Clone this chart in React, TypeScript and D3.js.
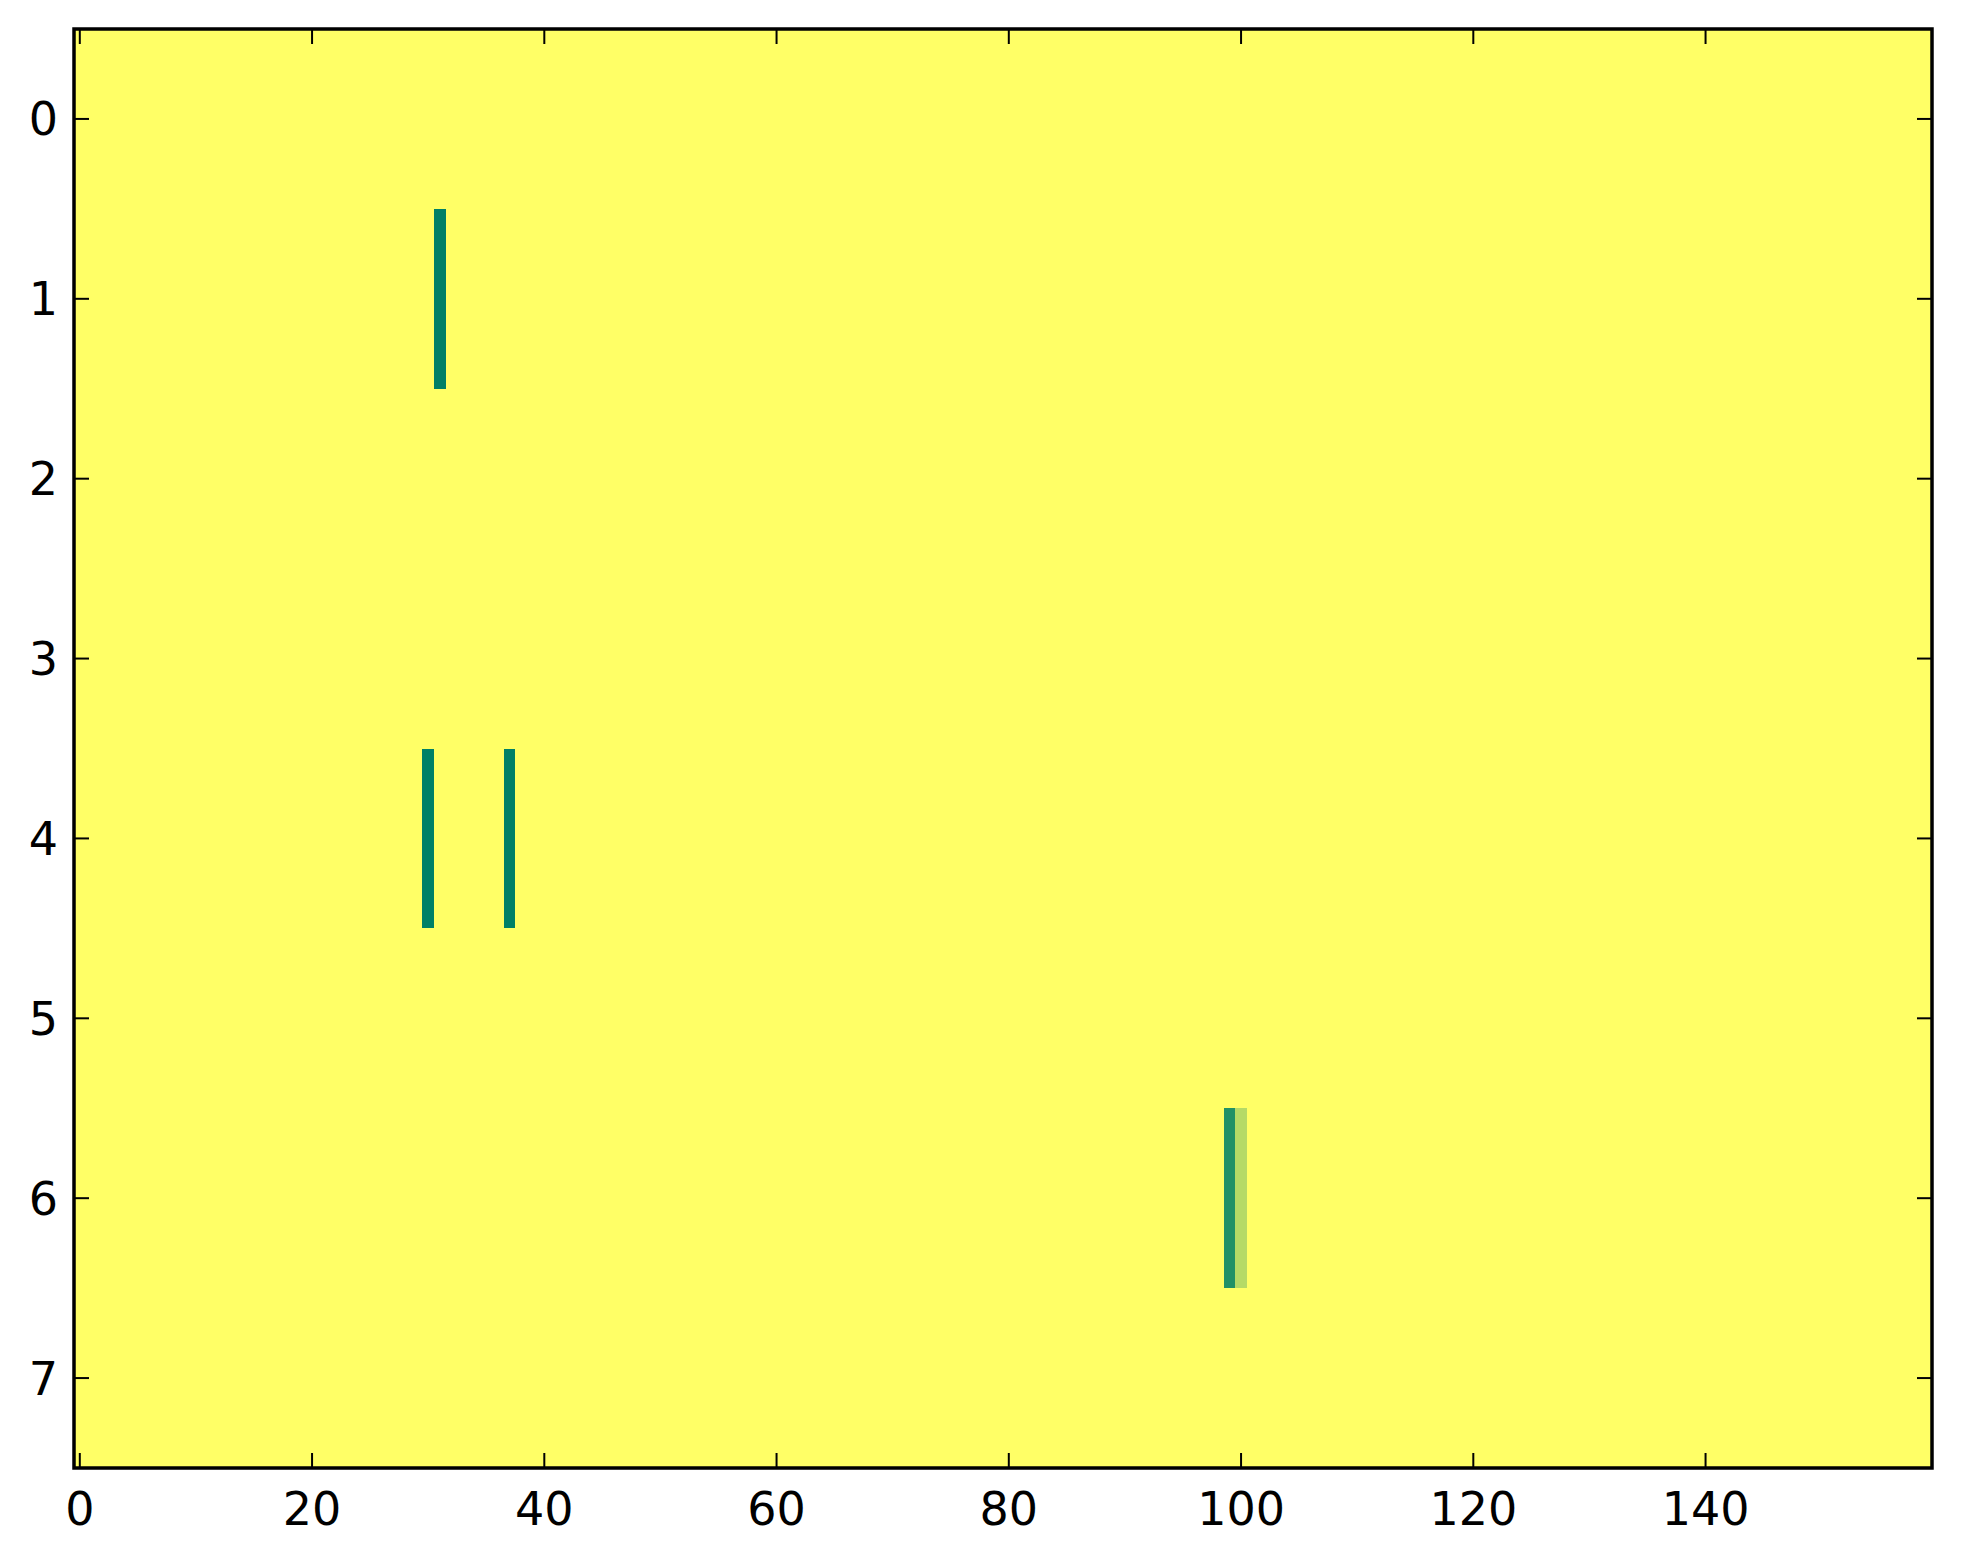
import React from "react";
import * as d3 from "d3";

const nRows = 8;
const nCols = 160;
const baseValue = 1;
// sparse cells that differ from the base value: [row, col, value]
const cellRows = [1, 4, 4, 6, 6];
const cellCols = [31, 30, 37, 99, 100];
const cellValues = [0, 0, 0, 0.13, 0.71];
const xTicks = [0, 20, 40, 60, 80, 100, 120, 140];
const yTicks = [0, 1, 2, 3, 4, 5, 6, 7];

const W = 1963;
const H = 1564;
const left = 74;
const right = 1932;
const top = 29;
const bottom = 1468;

export default function App() {
  const x = d3.scaleLinear().domain([-0.5, nCols - 0.5]).range([left, right]);
  const y = d3.scaleLinear().domain([-0.5, nRows - 0.5]).range([top, bottom]);
  const color = d3
    .scaleLinear<string>()
    .domain([0, 1])
    .range(["rgb(0,128,102)", "rgb(255,255,102)"])
    .interpolate(d3.interpolateRgb);

  const cells = cellRows.map((r, i) => ({ r, c: cellCols[i], v: cellValues[i] }));
  const tickLen = 15;
  const font = "DejaVu Sans";
  const fs = 46;

  return (
    <div style={{ position: "absolute", left: 0, top: 0 }}>
      <svg width={W} height={H} style={{ display: "block", background: "#fff" }}>
        <rect x={left} y={top} width={right - left} height={bottom - top} fill={color(baseValue)} />
        {cells.map((d, i) => (
          <rect
            key={i}
            x={x(d.c - 0.5)}
            y={y(d.r - 0.5)}
            width={x(d.c + 0.5) - x(d.c - 0.5)}
            height={y(d.r + 0.5) - y(d.r - 0.5)}
            fill={color(d.v)}
            shapeRendering="crispEdges"
          />
        ))}
        {xTicks.map((t) => (
          <g key={"x" + t}>
            <line x1={x(t)} x2={x(t)} y1={bottom} y2={bottom - tickLen} stroke="#000" strokeWidth={2} />
            <line x1={x(t)} x2={x(t)} y1={top} y2={top + tickLen} stroke="#000" strokeWidth={2} />
            <text x={x(t)} y={bottom + 57} textAnchor="middle" fontFamily={font} fontSize={fs} fill="#000">
              {t}
            </text>
          </g>
        ))}
        {yTicks.map((t) => (
          <g key={"y" + t}>
            <line x1={left} x2={left + tickLen} y1={y(t)} y2={y(t)} stroke="#000" strokeWidth={2} />
            <line x1={right} x2={right - tickLen} y1={y(t)} y2={y(t)} stroke="#000" strokeWidth={2} />
            <text x={left - 16} y={y(t)} dy="0.36em" textAnchor="end" fontFamily={font} fontSize={fs} fill="#000">
              {t}
            </text>
          </g>
        ))}
        <rect
          x={left}
          y={top}
          width={right - left}
          height={bottom - top}
          fill="none"
          stroke="#000"
          strokeWidth={3.5}
        />
      </svg>
    </div>
  );
}
